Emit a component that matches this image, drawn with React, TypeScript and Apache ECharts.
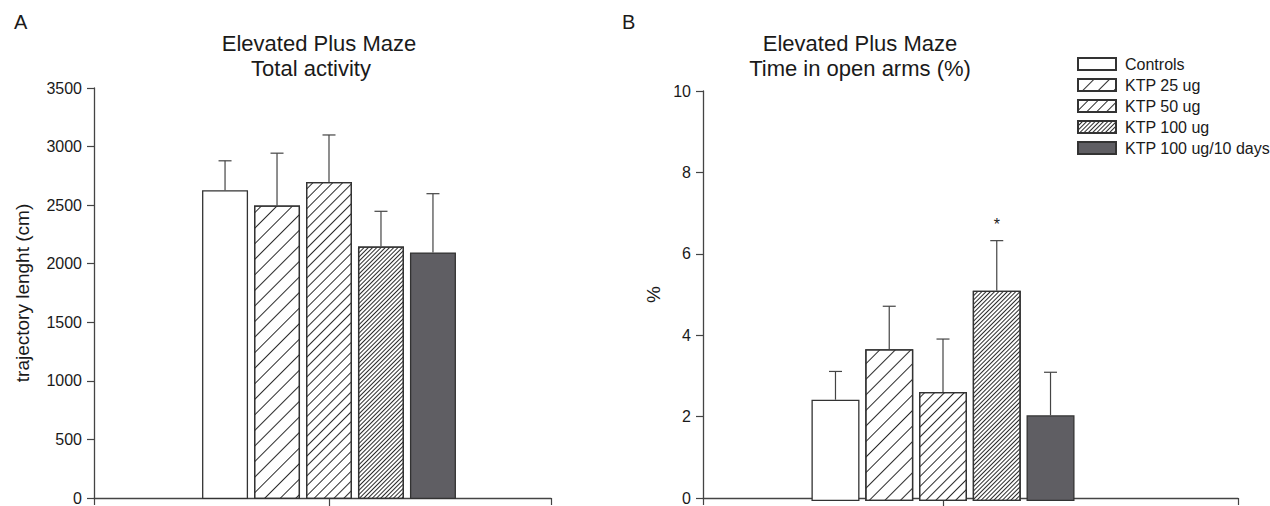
import React, { useEffect, useRef } from 'react';
import * as echarts from 'echarts';

// ---- data ----
const groups = ['Controls', 'KTP 25 ug', 'KTP 50 ug', 'KTP 100 ug', 'KTP 100 ug/10 days'];
const activityMean = [2630, 2500, 2700, 2150, 2100];
const activityErr = [250, 445, 400, 300, 500];
const openArmsMean = [2.47, 3.7, 2.66, 5.13, 2.09];
const openArmsErr = [0.69, 1.05, 1.29, 1.22, 1.05];
const openArmsSig = ['', '', '', '*', ''];
const activityCategory = ['Total activity'];
const openArmsCategory = ['Time in open arms (%)'];
const activityAxis = { min: 0, max: 3500, interval: 500 };
const percentAxis = { min: 0, max: 10, interval: 2 };

const FONT = '"Liberation Sans", Arial, sans-serif';
const AX = '#444';
const TXT = '#1a1a1a';
const DARK = '#5f5e63';

const decals: any[] = [
  null,
  { symbol: 'rect', symbolSize: 1, dashArrayX: [1, 0], dashArrayY: [1, 10], rotation: -Math.PI / 4, color: '#2a2a2a', backgroundColor: '#ffffff' },
  { symbol: 'rect', symbolSize: 1, dashArrayX: [1, 0], dashArrayY: [1, 6], rotation: -Math.PI / 4, color: '#2a2a2a', backgroundColor: '#ffffff' },
  { symbol: 'rect', symbolSize: 1, dashArrayX: [1, 0], dashArrayY: [1, 2], rotation: -Math.PI / 4, color: '#2a2a2a', backgroundColor: '#ffffff' },
  null,
];

const fills = ['#ffffff', '#ffffff', '#ffffff', '#ffffff', DARK];

function errRender(barW: number, gapRatio: number, sig: string[]) {
  return (params: any, api: any) => {
    const mean = api.value(1);
    const err = api.value(2);
    const i = api.value(3);
    const base = api.coord([0, mean]);
    const top = api.coord([0, mean + err]);
    const x = base[0] + (i - 2) * barW * (1 + gapRatio);
    const children: any[] = [
      { type: 'line', shape: { x1: x, y1: base[1], x2: x, y2: top[1] }, style: { stroke: AX, lineWidth: 1.2 } },
      { type: 'line', shape: { x1: x - 6.5, y1: top[1], x2: x + 6.5, y2: top[1] }, style: { stroke: AX, lineWidth: 1.2 } },
    ];
    const s = sig[i];
    if (s) {
      children.push({
        type: 'text',
        style: { text: s, x, y: top[1] - 16, align: 'center', verticalAlign: 'middle', fontSize: 16, fontFamily: FONT, fill: TXT },
      });
    }
    return { type: 'group', children };
  };
}

function valueY(gridIndex: number, ax: any, name: string, nameGap: number, show: boolean) {
  return {
    type: 'value', gridIndex, min: ax.min, max: ax.max, interval: ax.interval,
    show,
    name, nameLocation: 'middle', nameGap,
    nameTextStyle: { fontSize: 19, fontFamily: FONT, color: TXT },
    axisLine: { show: true, lineStyle: { color: AX, width: 1.3 } },
    axisTick: { show: true, length: 7, lineStyle: { color: AX, width: 1.2 } },
    axisLabel: { fontSize: 16, fontFamily: FONT, color: TXT, margin: 12, formatter: (v: number) => String(v) },
    splitLine: { show: false },
  };
}

function lineX(gridIndex: number) {
  return {
    type: 'value', gridIndex, min: 0, max: 1, interval: 1,
    axisLine: { show: true, onZero: false, lineStyle: { color: AX, width: 1.3 } },
    axisTick: { show: true, length: 7, lineStyle: { color: AX, width: 1.2 } },
    axisLabel: { show: false },
    splitLine: { show: false },
  };
}

function catX(gridIndex: number, data: string[]) {
  return {
    type: 'category', gridIndex, data,
    axisLine: { show: false },
    axisTick: { show: true, alignWithLabel: true, length: 7, lineStyle: { color: AX, width: 1.2 } },
    axisLabel: { show: false },
    splitLine: { show: false },
  };
}

const A_W = 46, A_GAP = 0.13;
const B_W = 48, B_GAP = 0.12;

function barSeries(xi: number, yi: number, vals: number[], w: number, gap: number) {
  return groups.map((g, i) => ({
    type: 'bar',
    name: g,
    xAxisIndex: xi,
    yAxisIndex: yi,
    barWidth: w,
    barGap: `${Math.round(gap * 100)}%`,
    data: [vals[i]],
    itemStyle: {
      color: fills[i],
      borderColor: '#333',
      borderWidth: 1.3,
      ...(decals[i] ? { decal: decals[i] } : {}),
    },
  }));
}

export default function App() {
  const ref = useRef<HTMLDivElement>(null);
  useEffect(() => {
    if (!ref.current) return;
    const chart = echarts.init(ref.current, undefined, { renderer: 'svg' });
    const option: any = {
      animation: false,
      backgroundColor: '#ffffff',
      textStyle: { fontFamily: FONT },
      grid: [
        { left: 94, top: 88, width: 457, height: 411 },
        { left: 94, top: 88, width: 470, height: 411 },
        { left: 703, top: 91, width: 535, height: 410 },
        { left: 703, top: 91, width: 480, height: 410 },
      ],
      xAxis: [lineX(0), catX(1, activityCategory), lineX(2), catX(3, openArmsCategory)],
      yAxis: [
        valueY(0, activityAxis, 'trajectory lenght (cm)', 62, true),
        valueY(1, activityAxis, '', 0, false),
        valueY(2, percentAxis, '%', 40, true),
        valueY(3, percentAxis, '', 0, false),
      ],
      legend: {
        left: 1072, top: 51, orient: 'vertical',
        itemWidth: 38, itemHeight: 12, itemGap: 5,
        icon: 'rect',
        data: groups,
        selectedMode: false,
        textStyle: { fontSize: 16, fontFamily: FONT, color: TXT, padding: [0, 0, 0, 4] },
      },
      graphic: [
        { type: 'text', left: 14, top: 12, style: { text: 'A', fontSize: 20, fontFamily: FONT, fill: TXT } },
        { type: 'text', left: 622, top: 12, style: { text: 'B', fontSize: 20, fontFamily: FONT, fill: TXT } },
        { type: 'text', x: 319, y: 43, style: { text: 'Elevated Plus Maze', align: 'center', verticalAlign: 'middle', fontSize: 22, fontFamily: FONT, fill: TXT } },
        { type: 'text', x: 311, y: 68, style: { text: 'Total activity', align: 'center', verticalAlign: 'middle', fontSize: 22, fontFamily: FONT, fill: TXT } },
        { type: 'text', x: 860, y: 43, style: { text: 'Elevated Plus Maze', align: 'center', verticalAlign: 'middle', fontSize: 22, fontFamily: FONT, fill: TXT } },
        { type: 'text', x: 860, y: 68, style: { text: 'Time in open arms (%)', align: 'center', verticalAlign: 'middle', fontSize: 22, fontFamily: FONT, fill: TXT } },
      ],
      series: [
        ...barSeries(1, 1, activityMean, A_W, A_GAP),
        {
          type: 'custom', xAxisIndex: 1, yAxisIndex: 1, z: 5,
          renderItem: errRender(A_W, A_GAP, ['', '', '', '', '']),
          encode: { x: 0, y: 1 },
          data: activityMean.map((m, i) => [0, m, activityErr[i], i]),
        },
        ...barSeries(3, 3, openArmsMean, B_W, B_GAP),
        {
          type: 'custom', xAxisIndex: 3, yAxisIndex: 3, z: 5,
          renderItem: errRender(B_W, B_GAP, openArmsSig),
          encode: { x: 0, y: 1 },
          data: openArmsMean.map((m, i) => [0, m, openArmsErr[i], i]),
        },
      ],
    };
    chart.setOption(option);
    return () => chart.dispose();
  }, []);
  return <div ref={ref} style={{ position: 'fixed', left: 0, top: 0, width: 1270, height: 506 }} />;
}
